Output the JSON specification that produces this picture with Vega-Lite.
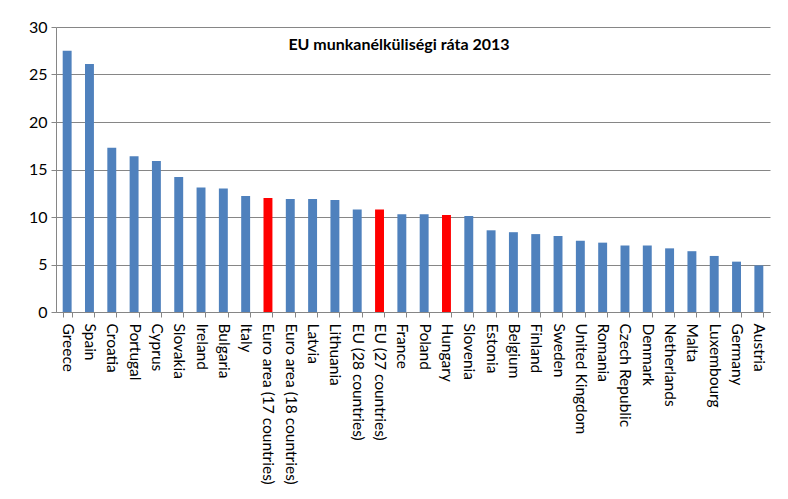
{
  "$schema": "https://vega.github.io/schema/vega-lite/v6.json",
  "width": 714,
  "height": 285,
  "autosize": {"type": "none"},
  "padding": {"left": 56, "top": 27, "right": 18, "bottom": 187},
  "background": "white",
  "title": {
    "text": "EU munkanélküliségi ráta 2013",
    "font": "Lato",
    "fontSize": 16,
    "fontWeight": "bold",
    "color": "#000000",
    "anchor": "middle",
    "dx": -14,
    "offset": -34
  },
  "data": {
    "values": [
      {"country": "Greece", "rate": 27.5, "hl": "no"},
      {"country": "Spain", "rate": 26.1, "hl": "no"},
      {"country": "Croatia", "rate": 17.3, "hl": "no"},
      {"country": "Portugal", "rate": 16.4, "hl": "no"},
      {"country": "Cyprus", "rate": 15.9, "hl": "no"},
      {"country": "Slovakia", "rate": 14.2, "hl": "no"},
      {"country": "Ireland", "rate": 13.1, "hl": "no"},
      {"country": "Bulgaria", "rate": 13.0, "hl": "no"},
      {"country": "Italy", "rate": 12.2, "hl": "no"},
      {"country": "Euro area (17 countries)", "rate": 12.0, "hl": "yes"},
      {"country": "Euro area (18 countries)", "rate": 11.9, "hl": "no"},
      {"country": "Latvia", "rate": 11.9, "hl": "no"},
      {"country": "Lithuania", "rate": 11.8, "hl": "no"},
      {"country": "EU (28 countries)", "rate": 10.8, "hl": "no"},
      {"country": "EU (27 countries)", "rate": 10.8, "hl": "yes"},
      {"country": "France", "rate": 10.3, "hl": "no"},
      {"country": "Poland", "rate": 10.3, "hl": "no"},
      {"country": "Hungary", "rate": 10.2, "hl": "yes"},
      {"country": "Slovenia", "rate": 10.1, "hl": "no"},
      {"country": "Estonia", "rate": 8.6, "hl": "no"},
      {"country": "Belgium", "rate": 8.4, "hl": "no"},
      {"country": "Finland", "rate": 8.2, "hl": "no"},
      {"country": "Sweden", "rate": 8.0, "hl": "no"},
      {"country": "United Kingdom", "rate": 7.5, "hl": "no"},
      {"country": "Romania", "rate": 7.3, "hl": "no"},
      {"country": "Czech Republic", "rate": 7.0, "hl": "no"},
      {"country": "Denmark", "rate": 7.0, "hl": "no"},
      {"country": "Netherlands", "rate": 6.7, "hl": "no"},
      {"country": "Malta", "rate": 6.4, "hl": "no"},
      {"country": "Luxembourg", "rate": 5.9, "hl": "no"},
      {"country": "Germany", "rate": 5.3, "hl": "no"},
      {"country": "Austria", "rate": 4.9, "hl": "no"}
    ]
  },
  "mark": {"type": "bar"},
  "encoding": {
    "x": {
      "field": "country",
      "type": "nominal",
      "sort": null,
      "scale": {"paddingInner": 0.6, "paddingOuter": 0.3},
      "axis": {
        "title": null,
        "labelAngle": 90,
        "labelAlign": "left",
        "labelBaseline": "middle",
        "labelFont": "Lato",
        "labelFontSize": 15.5,
        "labelColor": "#000000",
        "labelPadding": 6,
        "labelLimit": 300,
        "tickBand": "extent",
        "tickColor": "#868686",
        "tickSize": 5,
        "domainColor": "#868686",
        "grid": false
      }
    },
    "y": {
      "field": "rate",
      "type": "quantitative",
      "scale": {"domain": [0, 30], "nice": false},
      "axis": {
        "title": null,
        "values": [0, 5, 10, 15, 20, 25, 30],
        "labelFont": "Lato",
        "labelFontSize": 16,
        "labelColor": "#000000",
        "labelPadding": 4,
        "tickColor": "#868686",
        "tickSize": 5,
        "domainColor": "#868686",
        "gridColor": "#868686",
        "gridWidth": 1
      }
    },
    "color": {
      "field": "hl",
      "type": "nominal",
      "scale": {"domain": ["no", "yes"], "range": ["#4f81bd", "#ff0000"]},
      "legend": null
    }
  },
  "config": {
    "view": {"stroke": null}
  }
}
